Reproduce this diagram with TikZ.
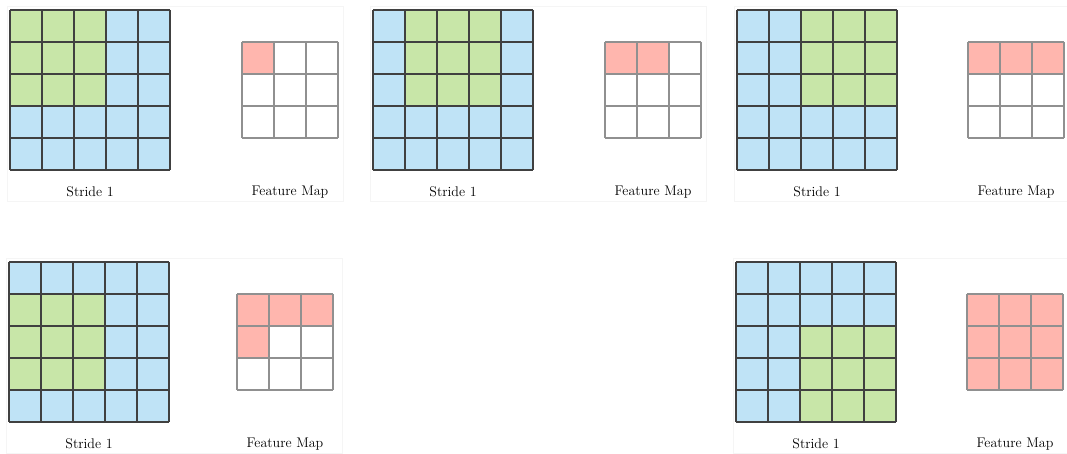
\documentclass[tikz,border=0pt]{standalone}
\usepackage{tikz}
\definecolor{inblue}{HTML}{BFE3F6}
\definecolor{wingreen}{HTML}{C8E6A8}
\definecolor{outred}{HTML}{FFB6AE}
\definecolor{inline}{HTML}{404040}
\definecolor{outline}{HTML}{909090}
\tikzset{
  inrule/.style={draw=inline,line width=1.1pt},
  outrule/.style={draw=outline,line width=1.1pt},
  lbl/.style={font=\fontsize{14}{16}\selectfont,inner sep=0pt},
  frame/.style={draw=black!4,line width=0.8pt}
}

\begin{document}
\begin{tikzpicture}[x=1pt,y=-1pt]
\useasboundingbox (0,0) rectangle (1067,454);
% grid x/y, feature map shift, window col/row, filled outputs, name
\foreach \gx/\gy/\fx/\wc/\wr/\nr/\pn in {10/10/232/0/0/1/a,373/10/232/1/0/2/b,737/10/231/2/0/3/c,9/262/228/0/1/4/d,736/262/231/2/2/9/e}{
  \draw[frame] (\gx-3,\gy-4) rectangle (\gx+333,\gy+191);
  % input 5x5 with the 3x3 window
  \fill[inblue] (\gx,\gy) rectangle ++(160,160);
  \fill[wingreen] (\gx+32*\wc,\gy+32*\wr) rectangle ++(96,96);
  \foreach \i in {0,...,5}{
    \draw[inrule] (\gx+32*\i,\gy)--++(0,160);
    \draw[inrule] (\gx,\gy+32*\i)--++(160,0);
  }
  % feature map 3x3
  \foreach \k in {1,...,\nr}{
    \pgfmathtruncatemacro\kc{mod(\k-1,3)}
    \pgfmathtruncatemacro\kr{(\k-1)/3}
    \fill[outred] (\gx+\fx+32*\kc,\gy+32+32*\kr) rectangle ++(32,32);
  }
  \foreach \i in {0,...,3}{
    \draw[outrule] (\gx+\fx+32*\i,\gy+32)--++(0,96);
    \draw[outrule] (\gx+\fx,\gy+32+32*\i)--++(96,0);
  }
  \node[lbl] (stride\pn) at (\gx+80,\gy+182) {Stride 1};
  \node[lbl] (fmap\pn) at (\gx+\fx+48,\gy+182) {Feature Map};
}
\end{tikzpicture}
\end{document}
